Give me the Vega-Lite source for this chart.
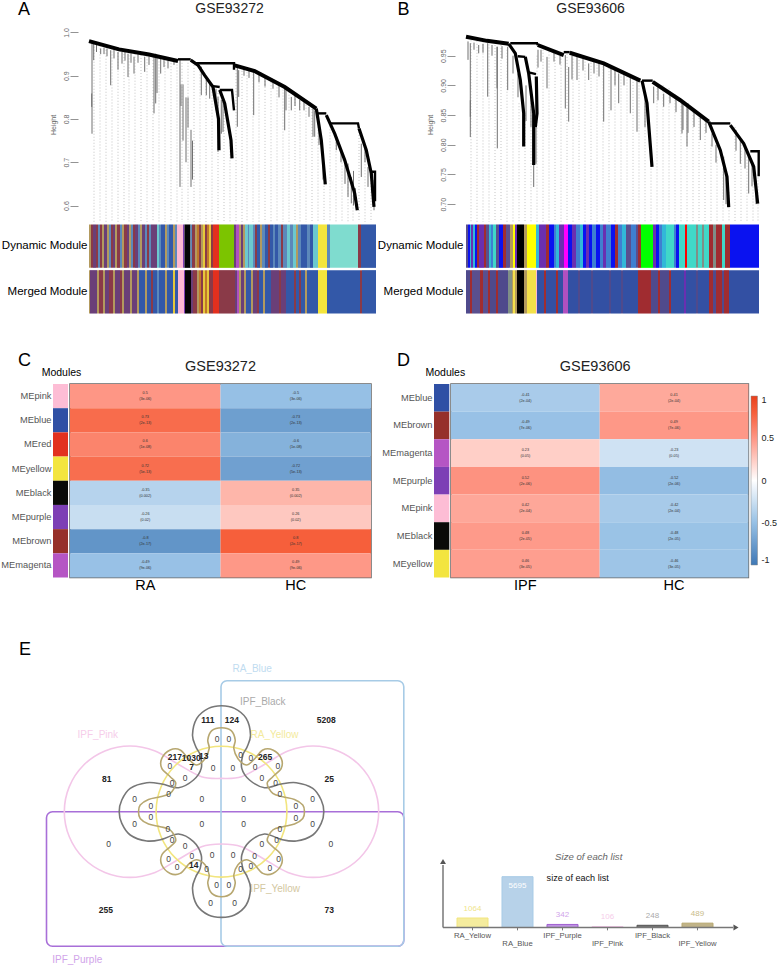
{
"$schema":"https://vega.github.io/schema/vega-lite/v6.json",
"padding":{"top":1,"left":0,"right":0,"bottom":0},
"background":"white",
"config":{"font":"Liberation Sans","view":{"stroke":null},"axis":{"grid":false}},
"datasets":{
"a_guides":[{"pos":5,"h":0.974},{"pos":11,"h":0.97},{"pos":17,"h":0.967},{"pos":23,"h":0.963},{"pos":29,"h":0.96},{"pos":35,"h":0.957},{"pos":40,"h":0.954},{"pos":46,"h":0.951},{"pos":52,"h":0.948},{"pos":58,"h":0.945},{"pos":64,"h":0.943},{"pos":70,"h":0.94},{"pos":76,"h":0.938},{"pos":82,"h":0.936},{"pos":88,"h":0.933},{"pos":93,"h":0.93},{"pos":99,"h":0.93},{"pos":105,"h":0.925},{"pos":111,"h":0.91},{"pos":117,"h":0.89},{"pos":123,"h":0.87},{"pos":129,"h":0.86},{"pos":135,"h":0.83},{"pos":141,"h":0.76},{"pos":147,"h":0.92},{"pos":153,"h":0.918},{"pos":158,"h":0.915},{"pos":164,"h":0.91},{"pos":170,"h":0.905},{"pos":176,"h":0.895},{"pos":182,"h":0.885},{"pos":188,"h":0.88},{"pos":194,"h":0.875},{"pos":200,"h":0.87},{"pos":206,"h":0.86},{"pos":211,"h":0.85},{"pos":217,"h":0.84},{"pos":223,"h":0.83},{"pos":229,"h":0.81},{"pos":235,"h":0.68},{"pos":241,"h":0.79},{"pos":247,"h":0.76},{"pos":253,"h":0.72},{"pos":259,"h":0.67},{"pos":264,"h":0.63},{"pos":270,"h":0.77},{"pos":276,"h":0.73},{"pos":282,"h":0.68}],
"a_twigs":[{"pos":3,"h":0.978,"h2":0.766},{"pos":2.7,"h":0.859,"h2":0.828},{"pos":4.7,"h":0.975,"h2":0.936},{"pos":7.5,"h":0.972,"h2":0.955},{"pos":11.7,"h":0.963,"h2":0.95},{"pos":15,"h":0.965,"h2":0.95},{"pos":18,"h":0.963,"h2":0.945},{"pos":21.7,"h":0.959,"h2":0.878},{"pos":25,"h":0.96,"h2":0.94},{"pos":29,"h":0.955,"h2":0.914},{"pos":33,"h":0.955,"h2":0.928},{"pos":36,"h":0.955,"h2":0.935},{"pos":39,"h":0.951,"h2":0.897},{"pos":42,"h":0.952,"h2":0.93},{"pos":45,"h":0.944,"h2":0.905},{"pos":49,"h":0.95,"h2":0.93},{"pos":55.7,"h":0.944,"h2":0.909},{"pos":60,"h":0.945,"h2":0.925},{"pos":65,"h":0.948,"h2":0.813},{"pos":66.7,"h":0.951,"h2":0.836},{"pos":68,"h":0.945,"h2":0.86},{"pos":71.7,"h":0.94,"h2":0.905},{"pos":75,"h":0.938,"h2":0.92},{"pos":79,"h":0.936,"h2":0.917},{"pos":85,"h":0.935,"h2":0.925},{"pos":91,"h":0.936,"h2":0.643},{"pos":92,"h":0.88,"h2":0.83},{"pos":94,"h":0.88,"h2":0.75},{"pos":97,"h":0.85,"h2":0.7},{"pos":99,"h":0.85,"h2":0.78},{"pos":102,"h":0.775,"h2":0.643},{"pos":103.5,"h":0.75,"h2":0.66},{"pos":112.3,"h":0.921,"h2":0.855},{"pos":117.3,"h":0.897,"h2":0.855},{"pos":120.7,"h":0.882,"h2":0.847},{"pos":127,"h":0.87,"h2":0.82},{"pos":132.3,"h":0.844,"h2":0.766},{"pos":134,"h":0.84,"h2":0.77},{"pos":129,"h":0.851,"h2":0.724},{"pos":148.3,"h":0.921,"h2":0.782},{"pos":149.7,"h":0.913,"h2":0.851},{"pos":155,"h":0.918,"h2":0.9},{"pos":160,"h":0.915,"h2":0.895},{"pos":164.7,"h":0.909,"h2":0.809},{"pos":170,"h":0.905,"h2":0.885},{"pos":176,"h":0.895,"h2":0.875},{"pos":184,"h":0.885,"h2":0.87},{"pos":190,"h":0.88,"h2":0.85},{"pos":195.7,"h":0.874,"h2":0.774},{"pos":197,"h":0.87,"h2":0.82},{"pos":202.3,"h":0.851,"h2":0.82},{"pos":206,"h":0.855,"h2":0.83},{"pos":210.7,"h":0.844,"h2":0.82},{"pos":215,"h":0.84,"h2":0.82},{"pos":220,"h":0.828,"h2":0.805},{"pos":224,"h":0.824,"h2":0.759},{"pos":225.7,"h":0.82,"h2":0.759},{"pos":230,"h":0.79,"h2":0.74},{"pos":234,"h":0.72,"h2":0.66},{"pos":247.3,"h":0.751,"h2":0.728},{"pos":252,"h":0.725,"h2":0.7},{"pos":256,"h":0.7,"h2":0.65},{"pos":259,"h":0.697,"h2":0.62},{"pos":262.3,"h":0.666,"h2":0.605},{"pos":264.5,"h":0.68,"h2":0.6},{"pos":266.5,"h":0.64,"h2":0.6},{"pos":272.3,"h":0.743,"h2":0.666},{"pos":276,"h":0.74,"h2":0.7},{"pos":279,"h":0.689,"h2":0.643},{"pos":283,"h":0.675,"h2":0.63},{"pos":285,"h":0.659,"h2":0.589}],
"a_lines":[
{"branch":"t1","kind":"trunk","pos":0,"h":0.98},{"branch":"t1","kind":"trunk","pos":30,"h":0.961},{"branch":"t1","kind":"trunk","pos":60,"h":0.949},{"branch":"t1","kind":"trunk","pos":89,"h":0.934},
{"branch":"c2","kind":"cluster","pos":101.7,"h":0.936},{"branch":"c2","kind":"cluster","pos":109,"h":0.9245},{"branch":"c2","kind":"cluster","pos":115.7,"h":0.901},{"branch":"c2","kind":"cluster","pos":124,"h":0.874},{"branch":"c2","kind":"cluster","pos":129.5,"h":0.8},{"branch":"c2","kind":"cluster","pos":130,"h":0.728},
{"branch":"c3","kind":"cluster","pos":130.7,"h":0.867},{"branch":"c3","kind":"cluster","pos":135.7,"h":0.836},{"branch":"c3","kind":"cluster","pos":142,"h":0.751},{"branch":"c3","kind":"cluster","pos":143,"h":0.709},
{"branch":"t4","kind":"trunk","pos":145.7,"h":0.924},{"branch":"t4","kind":"trunk","pos":165.7,"h":0.911},{"branch":"t4","kind":"trunk","pos":195.7,"h":0.874},{"branch":"t4","kind":"trunk","pos":227.3,"h":0.824},
{"branch":"c5","kind":"cluster","pos":227.3,"h":0.824},{"branch":"c5","kind":"cluster","pos":232.3,"h":0.751},{"branch":"c5","kind":"cluster","pos":236.3,"h":0.649},
{"branch":"c6","kind":"cluster","pos":237.3,"h":0.809},{"branch":"c6","kind":"cluster","pos":245.7,"h":0.766},{"branch":"c6","kind":"cluster","pos":255.7,"h":0.705},{"branch":"c6","kind":"cluster","pos":265.7,"h":0.628},{"branch":"c6","kind":"cluster","pos":268.3,"h":0.589},
{"branch":"c7","kind":"cluster","pos":270,"h":0.778},{"branch":"c7","kind":"cluster","pos":277.3,"h":0.728},{"branch":"c7","kind":"cluster","pos":282.3,"h":0.674},{"branch":"c7","kind":"cluster","pos":285,"h":0.597},
{"branch":"l1","kind":"link","pos":89,"h":0.938},{"branch":"l1","kind":"link","pos":101.7,"h":0.938},
{"branch":"l2","kind":"link","pos":106,"h":0.929},{"branch":"l2","kind":"link","pos":145,"h":0.929},{"branch":"l2","kind":"link","pos":145,"h":0.914},
{"branch":"l3","kind":"link","pos":124,"h":0.876},{"branch":"l3","kind":"link","pos":130.7,"h":0.874},
{"branch":"l4","kind":"link","pos":130.7,"h":0.867},{"branch":"l4","kind":"link","pos":143,"h":0.867},{"branch":"l4","kind":"link","pos":145,"h":0.82},
{"branch":"l5","kind":"link","pos":229,"h":0.813},{"branch":"l5","kind":"link","pos":237.3,"h":0.813},
{"branch":"l6","kind":"link","pos":240.7,"h":0.79},{"branch":"l6","kind":"link","pos":269,"h":0.79},{"branch":"l6","kind":"link","pos":270,"h":0.778},
{"branch":"l7","kind":"link","pos":282,"h":0.678},{"branch":"l7","kind":"link","pos":286,"h":0.678},{"branch":"l7","kind":"link","pos":286,"h":0.61}
],
"b_guides":[{"pos":5,"h":0.976},{"pos":11,"h":0.975},{"pos":17,"h":0.974},{"pos":23,"h":0.974},{"pos":29,"h":0.973},{"pos":35,"h":0.973},{"pos":41,"h":0.96},{"pos":47,"h":0.91},{"pos":53,"h":0.87},{"pos":59,"h":0.85},{"pos":65,"h":0.88},{"pos":71,"h":0.95},{"pos":77,"h":0.965},{"pos":83,"h":0.962},{"pos":89,"h":0.958},{"pos":95,"h":0.955},{"pos":101,"h":0.953},{"pos":107,"h":0.95},{"pos":113,"h":0.948},{"pos":119,"h":0.945},{"pos":125,"h":0.943},{"pos":131,"h":0.94},{"pos":137,"h":0.937},{"pos":143,"h":0.934},{"pos":149,"h":0.93},{"pos":155,"h":0.925},{"pos":161,"h":0.92},{"pos":167,"h":0.916},{"pos":173,"h":0.91},{"pos":179,"h":0.87},{"pos":185,"h":0.78},{"pos":191,"h":0.9},{"pos":197,"h":0.9},{"pos":203,"h":0.895},{"pos":209,"h":0.885},{"pos":215,"h":0.875},{"pos":221,"h":0.87},{"pos":227,"h":0.86},{"pos":233,"h":0.85},{"pos":239,"h":0.84},{"pos":245,"h":0.8},{"pos":251,"h":0.78},{"pos":257,"h":0.76},{"pos":263,"h":0.72},{"pos":269,"h":0.83},{"pos":275,"h":0.81},{"pos":281,"h":0.79},{"pos":287,"h":0.77},{"pos":292,"h":0.75}],
"b_twigs":[{"pos":2,"h":0.974,"h2":0.943},{"pos":4.3,"h":0.971,"h2":0.813},{"pos":4.3,"h":0.875,"h2":0.847},{"pos":8,"h":0.972,"h2":0.96},{"pos":12.7,"h":0.968,"h2":0.954},{"pos":17,"h":0.97,"h2":0.955},{"pos":21.7,"h":0.971,"h2":0.881},{"pos":26,"h":0.968,"h2":0.95},{"pos":31,"h":0.965,"h2":0.895},{"pos":31.3,"h":0.965,"h2":0.794},{"pos":36,"h":0.966,"h2":0.945},{"pos":41.7,"h":0.965,"h2":0.892},{"pos":47,"h":0.95,"h2":0.92},{"pos":52,"h":0.92,"h2":0.88},{"pos":60,"h":0.9,"h2":0.84},{"pos":65,"h":0.88,"h2":0.83},{"pos":67.7,"h":0.858,"h2":0.729},{"pos":72,"h":0.96,"h2":0.93},{"pos":75,"h":0.96,"h2":0.94},{"pos":81,"h":0.948,"h2":0.895},{"pos":88,"h":0.955,"h2":0.94},{"pos":94,"h":0.95,"h2":0.935},{"pos":99.3,"h":0.951,"h2":0.861},{"pos":102.7,"h":0.931,"h2":0.839},{"pos":106,"h":0.95,"h2":0.91},{"pos":111,"h":0.948,"h2":0.909},{"pos":117,"h":0.945,"h2":0.925},{"pos":122.7,"h":0.937,"h2":0.909},{"pos":128,"h":0.94,"h2":0.92},{"pos":133,"h":0.938,"h2":0.915},{"pos":137.7,"h":0.934,"h2":0.839},{"pos":145,"h":0.931,"h2":0.858},{"pos":149,"h":0.93,"h2":0.9},{"pos":152.7,"h":0.92,"h2":0.87},{"pos":158,"h":0.92,"h2":0.9},{"pos":164.3,"h":0.917,"h2":0.853},{"pos":171,"h":0.909,"h2":0.822},{"pos":179,"h":0.88,"h2":0.83},{"pos":187.7,"h":0.898,"h2":0.87},{"pos":192,"h":0.9,"h2":0.875},{"pos":197.7,"h":0.886,"h2":0.864},{"pos":204,"h":0.89,"h2":0.87},{"pos":210,"h":0.88,"h2":0.855},{"pos":216,"h":0.875,"h2":0.819},{"pos":217,"h":0.87,"h2":0.825},{"pos":221,"h":0.864,"h2":0.797},{"pos":222,"h":0.87,"h2":0.82},{"pos":228,"h":0.86,"h2":0.83},{"pos":234.3,"h":0.847,"h2":0.808},{"pos":240,"h":0.84,"h2":0.82},{"pos":246,"h":0.819,"h2":0.797},{"pos":250,"h":0.8,"h2":0.77},{"pos":257.7,"h":0.78,"h2":0.707},{"pos":260,"h":0.75,"h2":0.7},{"pos":270,"h":0.825,"h2":0.79},{"pos":274.3,"h":0.808,"h2":0.768},{"pos":279,"h":0.795,"h2":0.76},{"pos":282.7,"h":0.78,"h2":0.718},{"pos":286,"h":0.77,"h2":0.73},{"pos":290,"h":0.74,"h2":0.7},{"pos":70,"h":0.85,"h2":0.768}],
"b_lines":[
{"branch":"t1","kind":"trunk","pos":0,"h":0.982},{"branch":"t1","kind":"trunk","pos":21,"h":0.975},{"branch":"t1","kind":"trunk","pos":42.7,"h":0.97},
{"branch":"c2","kind":"cluster","pos":42.7,"h":0.97},{"branch":"c2","kind":"cluster","pos":49.3,"h":0.954},{"branch":"c2","kind":"cluster","pos":54.3,"h":0.909},{"branch":"c2","kind":"cluster","pos":57.7,"h":0.853},{"branch":"c2","kind":"cluster","pos":57.7,"h":0.797},
{"branch":"c3","kind":"cluster","pos":59.3,"h":0.948},{"branch":"c3","kind":"cluster","pos":62.7,"h":0.92},{"branch":"c3","kind":"cluster","pos":67.7,"h":0.853},{"branch":"c3","kind":"cluster","pos":67.7,"h":0.766},
{"branch":"c4","kind":"cluster","pos":70.3,"h":0.915},{"branch":"c4","kind":"cluster","pos":71,"h":0.853},{"branch":"c4","kind":"cluster","pos":69.3,"h":0.83},
{"branch":"t3","kind":"trunk","pos":71.7,"h":0.968},{"branch":"t3","kind":"trunk","pos":97.7,"h":0.951},
{"branch":"t4","kind":"trunk","pos":103.7,"h":0.955},{"branch":"t4","kind":"trunk","pos":137.7,"h":0.937},{"branch":"t4","kind":"trunk","pos":174.3,"h":0.908},
{"branch":"c5","kind":"cluster","pos":176,"h":0.908},{"branch":"c5","kind":"cluster","pos":181,"h":0.87},{"branch":"c5","kind":"cluster","pos":186,"h":0.763},
{"branch":"t6","kind":"trunk","pos":186.7,"h":0.906},{"branch":"t6","kind":"trunk","pos":214.3,"h":0.875},{"branch":"t6","kind":"trunk","pos":242.7,"h":0.839},
{"branch":"c7","kind":"cluster","pos":242.7,"h":0.839},{"branch":"c7","kind":"cluster","pos":254.3,"h":0.791},{"branch":"c7","kind":"cluster","pos":261,"h":0.746},{"branch":"c7","kind":"cluster","pos":262.7,"h":0.695},
{"branch":"c8","kind":"cluster","pos":264.3,"h":0.833},{"branch":"c8","kind":"cluster","pos":277.7,"h":0.802},{"branch":"c8","kind":"cluster","pos":287.7,"h":0.763},{"branch":"c8","kind":"cluster","pos":291.7,"h":0.701},
{"branch":"l1","kind":"link","pos":44.3,"h":0.971},{"branch":"l1","kind":"link","pos":71,"h":0.971},{"branch":"l1","kind":"link","pos":71.7,"h":0.968},
{"branch":"l2","kind":"link","pos":51.7,"h":0.949},{"branch":"l2","kind":"link","pos":59.3,"h":0.948},
{"branch":"l3","kind":"link","pos":62.7,"h":0.922},{"branch":"l3","kind":"link","pos":70,"h":0.919},
{"branch":"l4","kind":"link","pos":97.7,"h":0.956},{"branch":"l4","kind":"link","pos":103.7,"h":0.956},
{"branch":"l5","kind":"link","pos":176,"h":0.908},{"branch":"l5","kind":"link","pos":186.7,"h":0.908},
{"branch":"l6","kind":"link","pos":244.3,"h":0.836},{"branch":"l6","kind":"link","pos":264.3,"h":0.836},
{"branch":"l7","kind":"link","pos":284.3,"h":0.789},{"branch":"l7","kind":"link","pos":292.7,"h":0.789},{"branch":"l7","kind":"link","pos":292.7,"h":0.747}
],
"a_strip":[
{"strip":"Dynamic Module","pos":0,"end":2,"module":"tan"},{"strip":"Dynamic Module","pos":2,"end":4,"module":"brown"},{"strip":"Dynamic Module","pos":4,"end":7,"module":"plum"},{"strip":"Dynamic Module","pos":7,"end":9,"module":"brown"},{"strip":"Dynamic Module","pos":9,"end":11,"module":"steel"},{"strip":"Dynamic Module","pos":11,"end":13,"module":"brown"},{"strip":"Dynamic Module","pos":13,"end":15,"module":"tan"},{"strip":"Dynamic Module","pos":15,"end":18,"module":"plum"},{"strip":"Dynamic Module","pos":18,"end":20,"module":"tan"},{"strip":"Dynamic Module","pos":20,"end":22,"module":"steel"},{"strip":"Dynamic Module","pos":22,"end":24,"module":"brown"},{"strip":"Dynamic Module","pos":24,"end":26,"module":"plum"},{"strip":"Dynamic Module","pos":26,"end":28,"module":"tan"},{"strip":"Dynamic Module","pos":28,"end":31,"module":"brown"},{"strip":"Dynamic Module","pos":31,"end":33,"module":"steel"},{"strip":"Dynamic Module","pos":33,"end":35,"module":"tan"},{"strip":"Dynamic Module","pos":35,"end":38,"module":"brown"},{"strip":"Dynamic Module","pos":38,"end":40,"module":"plum"},{"strip":"Dynamic Module","pos":40,"end":42,"module":"tan"},{"strip":"Dynamic Module","pos":42,"end":44,"module":"steel"},{"strip":"Dynamic Module","pos":44,"end":46,"module":"brown"},{"strip":"Dynamic Module","pos":46,"end":49,"module":"plum"},{"strip":"Dynamic Module","pos":49,"end":51,"module":"steel"},{"strip":"Dynamic Module","pos":51,"end":53,"module":"tan"},{"strip":"Dynamic Module","pos":53,"end":56,"module":"plum"},{"strip":"Dynamic Module","pos":56,"end":58,"module":"steel"},{"strip":"Dynamic Module","pos":58,"end":60,"module":"brown"},{"strip":"Dynamic Module","pos":60,"end":62,"module":"steel"},{"strip":"Dynamic Module","pos":62,"end":68,"module":"plum"},{"strip":"Dynamic Module","pos":68,"end":70,"module":"cyan"},{"strip":"Dynamic Module","pos":70,"end":72,"module":"steel"},{"strip":"Dynamic Module","pos":72,"end":76,"module":"blue"},{"strip":"Dynamic Module","pos":76,"end":78,"module":"tan"},{"strip":"Dynamic Module","pos":78,"end":80,"module":"steel"},{"strip":"Dynamic Module","pos":80,"end":84,"module":"blue"},{"strip":"Dynamic Module","pos":84,"end":86,"module":"tan"},{"strip":"Dynamic Module","pos":86,"end":88,"module":"steel"},{"strip":"Dynamic Module","pos":88,"end":94,"module":"pink"},{"strip":"Dynamic Module","pos":94,"end":95.5,"module":"purple"},{"strip":"Dynamic Module","pos":95.5,"end":101.5,"module":"black"},{"strip":"Dynamic Module","pos":101.5,"end":103,"module":"steel"},{"strip":"Dynamic Module","pos":103,"end":106,"module":"brown"},{"strip":"Dynamic Module","pos":106,"end":108,"module":"tan"},{"strip":"Dynamic Module","pos":108,"end":110,"module":"orange"},{"strip":"Dynamic Module","pos":110,"end":112,"module":"brown"},{"strip":"Dynamic Module","pos":112,"end":114,"module":"tan"},{"strip":"Dynamic Module","pos":114,"end":116,"module":"gold"},{"strip":"Dynamic Module","pos":116,"end":118,"module":"brown"},{"strip":"Dynamic Module","pos":118,"end":120,"module":"orange"},{"strip":"Dynamic Module","pos":120,"end":122,"module":"gold"},{"strip":"Dynamic Module","pos":122,"end":124,"module":"brown"},{"strip":"Dynamic Module","pos":124,"end":130,"module":"red"},{"strip":"Dynamic Module","pos":130,"end":145,"module":"green"},{"strip":"Dynamic Module","pos":145,"end":147,"module":"plum"},{"strip":"Dynamic Module","pos":147,"end":150,"module":"magenta"},{"strip":"Dynamic Module","pos":150,"end":152,"module":"tan"},{"strip":"Dynamic Module","pos":152,"end":154,"module":"plum"},{"strip":"Dynamic Module","pos":154,"end":156,"module":"tan"},{"strip":"Dynamic Module","pos":156,"end":159,"module":"cyan"},{"strip":"Dynamic Module","pos":159,"end":160,"module":"steel"},{"strip":"Dynamic Module","pos":160,"end":164,"module":"cyan"},{"strip":"Dynamic Module","pos":164,"end":166,"module":"steel"},{"strip":"Dynamic Module","pos":166,"end":168,"module":"brown"},{"strip":"Dynamic Module","pos":168,"end":171,"module":"blue"},{"strip":"Dynamic Module","pos":171,"end":173,"module":"tan"},{"strip":"Dynamic Module","pos":173,"end":176,"module":"steel"},{"strip":"Dynamic Module","pos":176,"end":179,"module":"blue"},{"strip":"Dynamic Module","pos":179,"end":181,"module":"brown"},{"strip":"Dynamic Module","pos":181,"end":184,"module":"blue"},{"strip":"Dynamic Module","pos":184,"end":186,"module":"steel"},{"strip":"Dynamic Module","pos":186,"end":189,"module":"blue"},{"strip":"Dynamic Module","pos":189,"end":192,"module":"steel"},{"strip":"Dynamic Module","pos":192,"end":194,"module":"brown"},{"strip":"Dynamic Module","pos":194,"end":198,"module":"steel"},{"strip":"Dynamic Module","pos":198,"end":201,"module":"cyan"},{"strip":"Dynamic Module","pos":201,"end":204,"module":"steel"},{"strip":"Dynamic Module","pos":204,"end":207,"module":"cyan"},{"strip":"Dynamic Module","pos":207,"end":209,"module":"tan"},{"strip":"Dynamic Module","pos":209,"end":212,"module":"steel"},{"strip":"Dynamic Module","pos":212,"end":218,"module":"blue"},{"strip":"Dynamic Module","pos":218,"end":221,"module":"steel"},{"strip":"Dynamic Module","pos":221,"end":224,"module":"blue"},{"strip":"Dynamic Module","pos":224,"end":229,"module":"cyan"},{"strip":"Dynamic Module","pos":229,"end":238,"module":"yellow"},{"strip":"Dynamic Module","pos":238,"end":241,"module":"steel"},{"strip":"Dynamic Module","pos":241,"end":269,"module":"turquoise"},{"strip":"Dynamic Module","pos":269,"end":272,"module":"brown"},{"strip":"Dynamic Module","pos":272,"end":287,"module":"blue"},
{"strip":"Merged Module","pos":0,"end":1,"module":"tan"},{"strip":"Merged Module","pos":1,"end":8,"module":"plum"},{"strip":"Merged Module","pos":8,"end":10,"module":"tan"},{"strip":"Merged Module","pos":10,"end":14,"module":"brown"},{"strip":"Merged Module","pos":14,"end":16,"module":"tan"},{"strip":"Merged Module","pos":16,"end":20,"module":"plum"},{"strip":"Merged Module","pos":20,"end":24,"module":"brown"},{"strip":"Merged Module","pos":24,"end":26,"module":"tan"},{"strip":"Merged Module","pos":26,"end":31,"module":"plum"},{"strip":"Merged Module","pos":31,"end":33,"module":"brown"},{"strip":"Merged Module","pos":33,"end":35,"module":"tan"},{"strip":"Merged Module","pos":35,"end":41,"module":"plum"},{"strip":"Merged Module","pos":41,"end":43,"module":"tan"},{"strip":"Merged Module","pos":43,"end":48,"module":"plum"},{"strip":"Merged Module","pos":48,"end":50,"module":"tan"},{"strip":"Merged Module","pos":50,"end":56,"module":"blue"},{"strip":"Merged Module","pos":56,"end":58,"module":"tan"},{"strip":"Merged Module","pos":58,"end":62,"module":"blue"},{"strip":"Merged Module","pos":62,"end":64,"module":"brown"},{"strip":"Merged Module","pos":64,"end":68,"module":"blue"},{"strip":"Merged Module","pos":68,"end":70,"module":"steel"},{"strip":"Merged Module","pos":70,"end":76,"module":"blue"},{"strip":"Merged Module","pos":76,"end":78,"module":"tan"},{"strip":"Merged Module","pos":78,"end":84,"module":"blue"},{"strip":"Merged Module","pos":84,"end":86,"module":"gold"},{"strip":"Merged Module","pos":86,"end":89,"module":"blue"},{"strip":"Merged Module","pos":89,"end":95,"module":"pink"},{"strip":"Merged Module","pos":95,"end":96,"module":"purple"},{"strip":"Merged Module","pos":96,"end":102,"module":"black"},{"strip":"Merged Module","pos":102,"end":104,"module":"plum"},{"strip":"Merged Module","pos":104,"end":108,"module":"brown"},{"strip":"Merged Module","pos":108,"end":110,"module":"tan"},{"strip":"Merged Module","pos":110,"end":112,"module":"orange"},{"strip":"Merged Module","pos":112,"end":114,"module":"brown"},{"strip":"Merged Module","pos":114,"end":116,"module":"gold"},{"strip":"Merged Module","pos":116,"end":118,"module":"orange"},{"strip":"Merged Module","pos":118,"end":120,"module":"gold"},{"strip":"Merged Module","pos":120,"end":124,"module":"brown"},{"strip":"Merged Module","pos":124,"end":130,"module":"red"},{"strip":"Merged Module","pos":130,"end":146,"module":"brown"},{"strip":"Merged Module","pos":146,"end":148,"module":"plum"},{"strip":"Merged Module","pos":148,"end":150,"module":"magenta"},{"strip":"Merged Module","pos":150,"end":152,"module":"tan"},{"strip":"Merged Module","pos":152,"end":155,"module":"plum"},{"strip":"Merged Module","pos":155,"end":157,"module":"tan"},{"strip":"Merged Module","pos":157,"end":162,"module":"blue"},{"strip":"Merged Module","pos":162,"end":164,"module":"tan"},{"strip":"Merged Module","pos":164,"end":168,"module":"plum"},{"strip":"Merged Module","pos":168,"end":170,"module":"brown"},{"strip":"Merged Module","pos":170,"end":174,"module":"blue"},{"strip":"Merged Module","pos":174,"end":176,"module":"tan"},{"strip":"Merged Module","pos":176,"end":182,"module":"blue"},{"strip":"Merged Module","pos":182,"end":190,"module":"plum"},{"strip":"Merged Module","pos":190,"end":192,"module":"brown"},{"strip":"Merged Module","pos":192,"end":197,"module":"plum"},{"strip":"Merged Module","pos":197,"end":205,"module":"blue"},{"strip":"Merged Module","pos":205,"end":207,"module":"brown"},{"strip":"Merged Module","pos":207,"end":210,"module":"blue"},{"strip":"Merged Module","pos":210,"end":212,"module":"brown"},{"strip":"Merged Module","pos":212,"end":216,"module":"blue"},{"strip":"Merged Module","pos":216,"end":218,"module":"tan"},{"strip":"Merged Module","pos":218,"end":229,"module":"blue"},{"strip":"Merged Module","pos":229,"end":238,"module":"yellow"},{"strip":"Merged Module","pos":238,"end":271,"module":"blue"},{"strip":"Merged Module","pos":271,"end":273,"module":"brown"},{"strip":"Merged Module","pos":273,"end":287,"module":"blue"}
],
"b_strip":[
{"strip":"Dynamic Module","pos":0,"end":2,"module":"slate"},{"strip":"Dynamic Module","pos":2,"end":4,"module":"blue"},{"strip":"Dynamic Module","pos":4,"end":5,"module":"cyan"},{"strip":"Dynamic Module","pos":5,"end":7,"module":"purple"},{"strip":"Dynamic Module","pos":7,"end":9,"module":"cyan"},{"strip":"Dynamic Module","pos":9,"end":11,"module":"blue"},{"strip":"Dynamic Module","pos":11,"end":13,"module":"brown"},{"strip":"Dynamic Module","pos":13,"end":18,"module":"purple"},{"strip":"Dynamic Module","pos":18,"end":20,"module":"brown"},{"strip":"Dynamic Module","pos":20,"end":23,"module":"slate"},{"strip":"Dynamic Module","pos":23,"end":25,"module":"cyan"},{"strip":"Dynamic Module","pos":25,"end":27,"module":"steel"},{"strip":"Dynamic Module","pos":27,"end":30,"module":"turquoise"},{"strip":"Dynamic Module","pos":30,"end":33,"module":"slate"},{"strip":"Dynamic Module","pos":33,"end":37,"module":"blue"},{"strip":"Dynamic Module","pos":37,"end":40,"module":"brown"},{"strip":"Dynamic Module","pos":40,"end":44,"module":"slate"},{"strip":"Dynamic Module","pos":44,"end":47,"module":"tan"},{"strip":"Dynamic Module","pos":47,"end":49,"module":"yellow"},{"strip":"Dynamic Module","pos":49,"end":51,"module":"purple"},{"strip":"Dynamic Module","pos":51,"end":58,"module":"black"},{"strip":"Dynamic Module","pos":58,"end":61,"module":"tan"},{"strip":"Dynamic Module","pos":61,"end":70,"module":"yellow"},{"strip":"Dynamic Module","pos":70,"end":73,"module":"cyan"},{"strip":"Dynamic Module","pos":73,"end":80,"module":"purple"},{"strip":"Dynamic Module","pos":80,"end":83,"module":"brown"},{"strip":"Dynamic Module","pos":83,"end":88,"module":"blue"},{"strip":"Dynamic Module","pos":88,"end":90,"module":"steel"},{"strip":"Dynamic Module","pos":90,"end":93,"module":"cyan"},{"strip":"Dynamic Module","pos":93,"end":98,"module":"purple"},{"strip":"Dynamic Module","pos":98,"end":102,"module":"magenta"},{"strip":"Dynamic Module","pos":102,"end":106,"module":"blue"},{"strip":"Dynamic Module","pos":106,"end":110,"module":"purple"},{"strip":"Dynamic Module","pos":110,"end":114,"module":"steel"},{"strip":"Dynamic Module","pos":114,"end":117,"module":"cyan"},{"strip":"Dynamic Module","pos":117,"end":120,"module":"blue"},{"strip":"Dynamic Module","pos":120,"end":123,"module":"purple"},{"strip":"Dynamic Module","pos":123,"end":126,"module":"blue"},{"strip":"Dynamic Module","pos":126,"end":130,"module":"steel"},{"strip":"Dynamic Module","pos":130,"end":134,"module":"blue"},{"strip":"Dynamic Module","pos":134,"end":137,"module":"steel"},{"strip":"Dynamic Module","pos":137,"end":140,"module":"purple"},{"strip":"Dynamic Module","pos":140,"end":145,"module":"steel"},{"strip":"Dynamic Module","pos":145,"end":149,"module":"blue"},{"strip":"Dynamic Module","pos":149,"end":152,"module":"brown"},{"strip":"Dynamic Module","pos":152,"end":156,"module":"steel"},{"strip":"Dynamic Module","pos":156,"end":160,"module":"cyan"},{"strip":"Dynamic Module","pos":160,"end":165,"module":"slate"},{"strip":"Dynamic Module","pos":165,"end":170,"module":"steel"},{"strip":"Dynamic Module","pos":170,"end":172,"module":"slate"},{"strip":"Dynamic Module","pos":172,"end":175,"module":"brown"},{"strip":"Dynamic Module","pos":175,"end":187,"module":"green"},{"strip":"Dynamic Module","pos":187,"end":190,"module":"purple"},{"strip":"Dynamic Module","pos":190,"end":193,"module":"blue"},{"strip":"Dynamic Module","pos":193,"end":196,"module":"steel"},{"strip":"Dynamic Module","pos":196,"end":200,"module":"cyan"},{"strip":"Dynamic Module","pos":200,"end":208,"module":"turquoise"},{"strip":"Dynamic Module","pos":208,"end":210,"module":"steel"},{"strip":"Dynamic Module","pos":210,"end":213,"module":"blue"},{"strip":"Dynamic Module","pos":213,"end":219,"module":"turquoise"},{"strip":"Dynamic Module","pos":219,"end":221,"module":"red"},{"strip":"Dynamic Module","pos":221,"end":230,"module":"turquoise"},{"strip":"Dynamic Module","pos":230,"end":232,"module":"gray"},{"strip":"Dynamic Module","pos":232,"end":236,"module":"turquoise"},{"strip":"Dynamic Module","pos":236,"end":238,"module":"gray"},{"strip":"Dynamic Module","pos":238,"end":243,"module":"turquoise"},{"strip":"Dynamic Module","pos":243,"end":247,"module":"brown"},{"strip":"Dynamic Module","pos":247,"end":250,"module":"gray"},{"strip":"Dynamic Module","pos":250,"end":256,"module":"brown"},{"strip":"Dynamic Module","pos":256,"end":259,"module":"turquoise"},{"strip":"Dynamic Module","pos":259,"end":264,"module":"brown"},{"strip":"Dynamic Module","pos":264,"end":293,"module":"blue"},
{"strip":"Merged Module","pos":0,"end":4,"module":"plum"},{"strip":"Merged Module","pos":4,"end":6,"module":"brown"},{"strip":"Merged Module","pos":6,"end":14,"module":"slate"},{"strip":"Merged Module","pos":14,"end":17,"module":"brown"},{"strip":"Merged Module","pos":17,"end":22,"module":"slate"},{"strip":"Merged Module","pos":22,"end":24,"module":"brown"},{"strip":"Merged Module","pos":24,"end":30,"module":"plum"},{"strip":"Merged Module","pos":30,"end":32,"module":"brown"},{"strip":"Merged Module","pos":32,"end":42,"module":"plum"},{"strip":"Merged Module","pos":42,"end":46,"module":"gray"},{"strip":"Merged Module","pos":46,"end":47,"module":"tan"},{"strip":"Merged Module","pos":47,"end":49,"module":"paleyellow"},{"strip":"Merged Module","pos":49,"end":51,"module":"tan"},{"strip":"Merged Module","pos":51,"end":58,"module":"black"},{"strip":"Merged Module","pos":58,"end":61,"module":"tan"},{"strip":"Merged Module","pos":61,"end":70,"module":"paleyellow"},{"strip":"Merged Module","pos":70,"end":71,"module":"pink"},{"strip":"Merged Module","pos":71,"end":78,"module":"navy"},{"strip":"Merged Module","pos":78,"end":80,"module":"brown"},{"strip":"Merged Module","pos":80,"end":90,"module":"navy"},{"strip":"Merged Module","pos":90,"end":92,"module":"brown"},{"strip":"Merged Module","pos":92,"end":97,"module":"navy"},{"strip":"Merged Module","pos":97,"end":102,"module":"orchid"},{"strip":"Merged Module","pos":102,"end":112,"module":"navy"},{"strip":"Merged Module","pos":112,"end":114,"module":"plum"},{"strip":"Merged Module","pos":114,"end":125,"module":"navy"},{"strip":"Merged Module","pos":125,"end":127,"module":"plum"},{"strip":"Merged Module","pos":127,"end":143,"module":"navy"},{"strip":"Merged Module","pos":143,"end":145,"module":"plum"},{"strip":"Merged Module","pos":145,"end":155,"module":"navy"},{"strip":"Merged Module","pos":155,"end":157,"module":"plum"},{"strip":"Merged Module","pos":157,"end":172,"module":"navy"},{"strip":"Merged Module","pos":172,"end":185,"module":"brown"},{"strip":"Merged Module","pos":185,"end":192,"module":"plum"},{"strip":"Merged Module","pos":192,"end":194,"module":"brown"},{"strip":"Merged Module","pos":194,"end":203,"module":"plum"},{"strip":"Merged Module","pos":203,"end":205,"module":"brown"},{"strip":"Merged Module","pos":205,"end":218,"module":"navy"},{"strip":"Merged Module","pos":218,"end":220,"module":"purple"},{"strip":"Merged Module","pos":220,"end":230,"module":"navy"},{"strip":"Merged Module","pos":230,"end":232,"module":"plum"},{"strip":"Merged Module","pos":232,"end":243,"module":"navy"},{"strip":"Merged Module","pos":243,"end":247,"module":"brown"},{"strip":"Merged Module","pos":247,"end":250,"module":"plum"},{"strip":"Merged Module","pos":250,"end":256,"module":"brown"},{"strip":"Merged Module","pos":256,"end":258,"module":"plum"},{"strip":"Merged Module","pos":258,"end":263,"module":"brown"},{"strip":"Merged Module","pos":263,"end":293,"module":"navy"}
],
"heat_c":[
{"module":"MEpink","group":"RA","r":0.5,"p":"(3e-06)"},{"module":"MEpink","group":"HC","r":-0.5,"p":"(3e-06)"},
{"module":"MEblue","group":"RA","r":0.73,"p":"(2e-13)"},{"module":"MEblue","group":"HC","r":-0.73,"p":"(2e-13)"},
{"module":"MEred","group":"RA","r":0.6,"p":"(1e-08)"},{"module":"MEred","group":"HC","r":-0.6,"p":"(1e-08)"},
{"module":"MEyellow","group":"RA","r":0.72,"p":"(5e-13)"},{"module":"MEyellow","group":"HC","r":-0.72,"p":"(5e-13)"},
{"module":"MEblack","group":"RA","r":-0.35,"p":"(0.002)"},{"module":"MEblack","group":"HC","r":0.35,"p":"(0.002)"},
{"module":"MEpurple","group":"RA","r":-0.26,"p":"(0.02)"},{"module":"MEpurple","group":"HC","r":0.26,"p":"(0.02)"},
{"module":"MEbrown","group":"RA","r":-0.8,"p":"(2e-17)"},{"module":"MEbrown","group":"HC","r":0.8,"p":"(2e-17)"},
{"module":"MEmagenta","group":"RA","r":-0.49,"p":"(9e-06)"},{"module":"MEmagenta","group":"HC","r":0.49,"p":"(9e-06)"}],
"heat_d":[
{"module":"MEblue","group":"IPF","r":-0.41,"p":"(2e-04)"},{"module":"MEblue","group":"HC","r":0.41,"p":"(2e-04)"},
{"module":"MEbrown","group":"IPF","r":-0.49,"p":"(7e-06)"},{"module":"MEbrown","group":"HC","r":0.49,"p":"(7e-06)"},
{"module":"MEmagenta","group":"IPF","r":0.23,"p":"(0.05)"},{"module":"MEmagenta","group":"HC","r":-0.23,"p":"(0.05)"},
{"module":"MEpurple","group":"IPF","r":0.52,"p":"(2e-06)"},{"module":"MEpurple","group":"HC","r":-0.52,"p":"(2e-06)"},
{"module":"MEpink","group":"IPF","r":0.42,"p":"(2e-04)"},{"module":"MEpink","group":"HC","r":-0.42,"p":"(2e-04)"},
{"module":"MEblack","group":"IPF","r":0.48,"p":"(2e-05)"},{"module":"MEblack","group":"HC","r":-0.48,"p":"(2e-05)"},
{"module":"MEyellow","group":"IPF","r":0.46,"p":"(3e-05)"},{"module":"MEyellow","group":"HC","r":-0.46,"p":"(3e-05)"}],
"venn_rects":[{"set":"IPF_Purple","vx":-175,"vx2":182.3,"vy":0,"vy2":134.5},{"set":"RA_Blue","vx":-0.5,"vx2":182.3,"vy":-131,"vy2":134.5}],
"venn_shapes":[
{"set":"IPF_Pink","vx":0,"vy":-33.3},{"set":"IPF_Pink","vx":20,"vy":-35},{"set":"IPF_Pink","vx":43.7,"vy":-47.7},{"set":"IPF_Pink","vx":66.4,"vy":-60.7},{"set":"IPF_Pink","vx":91.5,"vy":-65.7},{"set":"IPF_Pink","vx":116.6,"vy":-60.7},{"set":"IPF_Pink","vx":138,"vy":-46.5},{"set":"IPF_Pink","vx":152.2,"vy":-25.1},{"set":"IPF_Pink","vx":157.2,"vy":0},{"set":"IPF_Pink","vx":152.2,"vy":25.1},{"set":"IPF_Pink","vx":138,"vy":46.5},{"set":"IPF_Pink","vx":116.6,"vy":60.7},{"set":"IPF_Pink","vx":91.5,"vy":65.7},{"set":"IPF_Pink","vx":66.4,"vy":60.7},{"set":"IPF_Pink","vx":43.7,"vy":48},{"set":"IPF_Pink","vx":20,"vy":35},{"set":"IPF_Pink","vx":0,"vy":32.3},{"set":"IPF_Pink","vx":-20,"vy":35},{"set":"IPF_Pink","vx":-43.7,"vy":48},{"set":"IPF_Pink","vx":-66.4,"vy":60.7},{"set":"IPF_Pink","vx":-91.5,"vy":65.7},{"set":"IPF_Pink","vx":-116.6,"vy":60.7},{"set":"IPF_Pink","vx":-138,"vy":46.5},{"set":"IPF_Pink","vx":-152.2,"vy":25.1},{"set":"IPF_Pink","vx":-157.2,"vy":0},{"set":"IPF_Pink","vx":-152.2,"vy":-25.1},{"set":"IPF_Pink","vx":-138,"vy":-46.5},{"set":"IPF_Pink","vx":-116.6,"vy":-60.7},{"set":"IPF_Pink","vx":-91.5,"vy":-65.7},{"set":"IPF_Pink","vx":-66.4,"vy":-60.7},{"set":"IPF_Pink","vx":-43.7,"vy":-47.7},{"set":"IPF_Pink","vx":-20,"vy":-35},
{"set":"RA_Yellow","vx":0,"vy":-65.4},{"set":"RA_Yellow","vx":25,"vy":-60.4},{"set":"RA_Yellow","vx":46.2,"vy":-46.2},{"set":"RA_Yellow","vx":60.4,"vy":-25},{"set":"RA_Yellow","vx":65.4,"vy":0},{"set":"RA_Yellow","vx":60.4,"vy":25},{"set":"RA_Yellow","vx":46.2,"vy":46.2},{"set":"RA_Yellow","vx":25,"vy":60.4},{"set":"RA_Yellow","vx":0,"vy":65.4},{"set":"RA_Yellow","vx":-25,"vy":60.4},{"set":"RA_Yellow","vx":-46.2,"vy":46.2},{"set":"RA_Yellow","vx":-60.4,"vy":25},{"set":"RA_Yellow","vx":-65.4,"vy":0},{"set":"RA_Yellow","vx":-60.4,"vy":-25},{"set":"RA_Yellow","vx":-46.2,"vy":-46.2},{"set":"RA_Yellow","vx":-25,"vy":-60.4},
{"set":"IPF_Black","vx":0,"vy":-106},{"set":"IPF_Black","vx":13,"vy":-103.3},{"set":"IPF_Black","vx":24.7,"vy":-93.3},{"set":"IPF_Black","vx":29,"vy":-76.7},{"set":"IPF_Black","vx":25.7,"vy":-65},{"set":"IPF_Black","vx":21.3,"vy":-56.7},{"set":"IPF_Black","vx":20.3,"vy":-43.3},{"set":"IPF_Black","vx":28,"vy":-31.7},{"set":"IPF_Black","vx":43,"vy":-24},{"set":"IPF_Black","vx":59.7,"vy":-27.7},{"set":"IPF_Black","vx":74.7,"vy":-29},{"set":"IPF_Black","vx":91.3,"vy":-23.3},{"set":"IPF_Black","vx":99.7,"vy":-11.7},{"set":"IPF_Black","vx":102.3,"vy":0},{"set":"IPF_Black","vx":99.7,"vy":11.7},{"set":"IPF_Black","vx":91.3,"vy":23.3},{"set":"IPF_Black","vx":74.7,"vy":29.3},{"set":"IPF_Black","vx":59.7,"vy":27.7},{"set":"IPF_Black","vx":43,"vy":22.3},{"set":"IPF_Black","vx":28,"vy":30},{"set":"IPF_Black","vx":20.3,"vy":43.3},{"set":"IPF_Black","vx":21.3,"vy":56.7},{"set":"IPF_Black","vx":25.7,"vy":65},{"set":"IPF_Black","vx":29,"vy":76.7},{"set":"IPF_Black","vx":24.7,"vy":93.3},{"set":"IPF_Black","vx":13,"vy":103.3},{"set":"IPF_Black","vx":0,"vy":105.7},{"set":"IPF_Black","vx":-13,"vy":103.3},{"set":"IPF_Black","vx":-24.7,"vy":93.3},{"set":"IPF_Black","vx":-29,"vy":76.7},{"set":"IPF_Black","vx":-25.7,"vy":65},{"set":"IPF_Black","vx":-21.3,"vy":56.7},{"set":"IPF_Black","vx":-20.3,"vy":43.3},{"set":"IPF_Black","vx":-28,"vy":30},{"set":"IPF_Black","vx":-43,"vy":22.3},{"set":"IPF_Black","vx":-59.7,"vy":27.7},{"set":"IPF_Black","vx":-74.7,"vy":29.3},{"set":"IPF_Black","vx":-91.3,"vy":23.3},{"set":"IPF_Black","vx":-99.7,"vy":11.7},{"set":"IPF_Black","vx":-102.3,"vy":0},{"set":"IPF_Black","vx":-99.7,"vy":-11.7},{"set":"IPF_Black","vx":-91.3,"vy":-23.3},{"set":"IPF_Black","vx":-74.7,"vy":-29},{"set":"IPF_Black","vx":-59.7,"vy":-27.7},{"set":"IPF_Black","vx":-43,"vy":-24},{"set":"IPF_Black","vx":-28,"vy":-31.7},{"set":"IPF_Black","vx":-20.3,"vy":-43.3},{"set":"IPF_Black","vx":-21.3,"vy":-56.7},{"set":"IPF_Black","vx":-25.7,"vy":-65},{"set":"IPF_Black","vx":-29,"vy":-76.7},{"set":"IPF_Black","vx":-24.7,"vy":-93.3},{"set":"IPF_Black","vx":-13,"vy":-103.3},
{"set":"IPF_Yellow","vx":0,"vy":-84},{"set":"IPF_Yellow","vx":9.7,"vy":-81},{"set":"IPF_Yellow","vx":13.7,"vy":-71.7},{"set":"IPF_Yellow","vx":12.3,"vy":-63.3},{"set":"IPF_Yellow","vx":16.3,"vy":-53.3},{"set":"IPF_Yellow","vx":24.7,"vy":-46.7},{"set":"IPF_Yellow","vx":32,"vy":-51.7},{"set":"IPF_Yellow","vx":41.3,"vy":-61.7},{"set":"IPF_Yellow","vx":51.3,"vy":-61.7},{"set":"IPF_Yellow","vx":59.7,"vy":-53.3},{"set":"IPF_Yellow","vx":59.7,"vy":-43.3},{"set":"IPF_Yellow","vx":51.3,"vy":-35},{"set":"IPF_Yellow","vx":45.7,"vy":-28.3},{"set":"IPF_Yellow","vx":51.3,"vy":-18.3},{"set":"IPF_Yellow","vx":61.3,"vy":-15},{"set":"IPF_Yellow","vx":73,"vy":-12.3},{"set":"IPF_Yellow","vx":81.3,"vy":-6.7},{"set":"IPF_Yellow","vx":83,"vy":0},{"set":"IPF_Yellow","vx":81.3,"vy":6.7},{"set":"IPF_Yellow","vx":73,"vy":12.3},{"set":"IPF_Yellow","vx":61.3,"vy":15},{"set":"IPF_Yellow","vx":51.3,"vy":18.3},{"set":"IPF_Yellow","vx":45.7,"vy":28.3},{"set":"IPF_Yellow","vx":51.3,"vy":35},{"set":"IPF_Yellow","vx":59.7,"vy":43.3},{"set":"IPF_Yellow","vx":59.7,"vy":53.3},{"set":"IPF_Yellow","vx":51.3,"vy":61.7},{"set":"IPF_Yellow","vx":41.3,"vy":61.7},{"set":"IPF_Yellow","vx":32,"vy":51.7},{"set":"IPF_Yellow","vx":24.7,"vy":48},{"set":"IPF_Yellow","vx":16.3,"vy":53.3},{"set":"IPF_Yellow","vx":12.3,"vy":63.3},{"set":"IPF_Yellow","vx":13.7,"vy":71.7},{"set":"IPF_Yellow","vx":9.7,"vy":81.7},{"set":"IPF_Yellow","vx":0,"vy":85},{"set":"IPF_Yellow","vx":-9.7,"vy":81.7},{"set":"IPF_Yellow","vx":-13.7,"vy":71.7},{"set":"IPF_Yellow","vx":-12.3,"vy":63.3},{"set":"IPF_Yellow","vx":-16.3,"vy":53.3},{"set":"IPF_Yellow","vx":-24.7,"vy":48},{"set":"IPF_Yellow","vx":-32,"vy":51.7},{"set":"IPF_Yellow","vx":-41.3,"vy":61.7},{"set":"IPF_Yellow","vx":-51.3,"vy":61.7},{"set":"IPF_Yellow","vx":-59.7,"vy":53.3},{"set":"IPF_Yellow","vx":-59.7,"vy":43.3},{"set":"IPF_Yellow","vx":-51.3,"vy":35},{"set":"IPF_Yellow","vx":-45.7,"vy":28.3},{"set":"IPF_Yellow","vx":-51.3,"vy":18.3},{"set":"IPF_Yellow","vx":-61.3,"vy":15},{"set":"IPF_Yellow","vx":-73,"vy":12.3},{"set":"IPF_Yellow","vx":-81.3,"vy":6.7},{"set":"IPF_Yellow","vx":-83,"vy":0},{"set":"IPF_Yellow","vx":-81.3,"vy":-6.7},{"set":"IPF_Yellow","vx":-73,"vy":-12.3},{"set":"IPF_Yellow","vx":-61.3,"vy":-15},{"set":"IPF_Yellow","vx":-51.3,"vy":-18.3},{"set":"IPF_Yellow","vx":-45.7,"vy":-28.3},{"set":"IPF_Yellow","vx":-51.3,"vy":-35},{"set":"IPF_Yellow","vx":-59.7,"vy":-43.3},{"set":"IPF_Yellow","vx":-59.7,"vy":-53.3},{"set":"IPF_Yellow","vx":-51.3,"vy":-61.7},{"set":"IPF_Yellow","vx":-41.3,"vy":-61.7},{"set":"IPF_Yellow","vx":-32,"vy":-51.7},{"set":"IPF_Yellow","vx":-24.7,"vy":-46.7},{"set":"IPF_Yellow","vx":-16.3,"vy":-53.3},{"set":"IPF_Yellow","vx":-12.3,"vy":-63.3},{"set":"IPF_Yellow","vx":-13.7,"vy":-71.7},{"set":"IPF_Yellow","vx":-9.7,"vy":-81}
],
"venn_counts":[
{"vx":-13.7,"vy":-91.3,"count":111},{"vx":10.3,"vy":-91.3,"count":124},{"vx":104.7,"vy":-91.3,"count":5208},{"vx":-4.3,"vy":-73,"count":0},{"vx":7.3,"vy":-73,"count":0},{"vx":-46.7,"vy":-54.7,"count":217},{"vx":-30.3,"vy":-53.3,"count":1030},{"vx":-17.7,"vy":-56,"count":13},{"vx":-30,"vy":-44.7,"count":7},{"vx":-51.7,"vy":-46,"count":0},{"vx":-8.3,"vy":-44,"count":0},{"vx":11.3,"vy":-44,"count":0},{"vx":19,"vy":-56.3,"count":0},{"vx":29.3,"vy":-53.3,"count":0},{"vx":43.7,"vy":-54.7,"count":265},{"vx":33.7,"vy":-44.7,"count":0},{"vx":56.3,"vy":-46,"count":0},{"vx":-114.7,"vy":-33,"count":81},{"vx":107.7,"vy":-33,"count":25},{"vx":-36.3,"vy":-34,"count":0},{"vx":-49.3,"vy":-29,"count":0},{"vx":40.3,"vy":-34,"count":0},{"vx":54,"vy":-29,"count":0},{"vx":-53,"vy":-17.7,"count":0},{"vx":58.3,"vy":-17.7,"count":0},{"vx":-87,"vy":-12.7,"count":0},{"vx":-19.7,"vy":-12.7,"count":0},{"vx":22,"vy":-12.7,"count":0},{"vx":91,"vy":-12.7,"count":0},{"vx":-70.7,"vy":-6,"count":0},{"vx":74.3,"vy":-6,"count":0},{"vx":-70.7,"vy":5.3,"count":0},{"vx":74.3,"vy":6,"count":0},{"vx":-87,"vy":12,"count":0},{"vx":-19.7,"vy":12,"count":0},{"vx":22,"vy":12,"count":0},{"vx":91,"vy":12,"count":0},{"vx":-53.7,"vy":17,"count":0},{"vx":58.3,"vy":17,"count":0},{"vx":-49.3,"vy":28.7,"count":0},{"vx":55,"vy":28.7,"count":0},{"vx":-36.3,"vy":34,"count":0},{"vx":40.3,"vy":32.7,"count":0},{"vx":-113,"vy":32.3,"count":0},{"vx":109.3,"vy":32.3,"count":0},{"vx":-29.7,"vy":44,"count":0},{"vx":-9.3,"vy":43.7,"count":0},{"vx":11.7,"vy":43.7,"count":0},{"vx":33,"vy":44,"count":0},{"vx":-53,"vy":47,"count":0},{"vx":57,"vy":47,"count":0},{"vx":-44.3,"vy":55.3,"count":0},{"vx":-27.7,"vy":53.7,"count":14},{"vx":-15,"vy":57.3,"count":0},{"vx":19,"vy":57.3,"count":0},{"vx":29.3,"vy":54,"count":0},{"vx":48.3,"vy":56,"count":0},{"vx":-5,"vy":73.7,"count":0},{"vx":7.3,"vy":73.7,"count":0},{"vx":-11,"vy":91,"count":0},{"vx":13,"vy":91,"count":0},{"vx":-115.7,"vy":98.3,"count":255},{"vx":107.7,"vy":98.3,"count":73}],
"venn_labels":[{"set":"RA_Blue","vx":30.7,"vy":-142.7},{"set":"IPF_Black","vx":41.3,"vy":-109.7},{"set":"IPF_Pink","vx":-123.7,"vy":-77},{"set":"RA_Yellow","vx":53,"vy":-77},{"set":"IPF_Yellow","vx":53.7,"vy":77.3},{"set":"IPF_Purple","vx":-144.3,"vy":148.7}],
"sizes":[{"list":"RA_Yellow","size":1064,"row":1},{"list":"RA_Blue","size":5695,"row":2},{"list":"IPF_Purple","size":342,"row":1},{"list":"IPF_Pink","size":106,"row":2},{"list":"IPF_Black","size":248,"row":1},{"list":"IPF_Yellow","size":489,"row":2}]
},
"resolve":{"scale":{"fill":"independent","color":"independent","stroke":"independent"}},
"spacing":38,
"vconcat":[
{"spacing":1,"resolve":{"scale":{"fill":"independent","color":"independent","stroke":"independent"}},
"vconcat":[
{"hconcat":[
{"width":87.5,"height":195,"data":{"values":[{"panel":"A"}]},"mark":{"type":"text","fontSize":18,"align":"left","baseline":"alphabetic"},"encoding":{"text":{"field":"panel"},"x":{"value":17},"y":{"value":-12}}},
{"width":287,"height":195,"title":{"text":"GSE93272","fontSize":14,"fontWeight":"normal","dx":-3,"offset":11,"color":"#222"},
"encoding":{"x":{"field":"pos","type":"quantitative","axis":null,"scale":{"domain":[0,287],"nice":false,"zero":false}},"y":{"field":"h","type":"quantitative","title":"Height","scale":{"domain":[0.5619,1.0127],"nice":false,"zero":false},"axis":{"values":[0.6,0.7,0.8,0.9,1.0],"format":".1f","labelAngle":-90,"labelFontSize":7,"labelColor":"#666","tickColor":"#777","tickSize":8,"tickWidth":0.8,"domain":false,"offset":11,"titleFontSize":7,"titleColor":"#666","titleFontWeight":"normal","titlePadding":6,"labelPadding":1}}},
"layer":[
{"data":{"name":"a_guides"},"mark":{"type":"rule","strokeDash":[1,2],"color":"#b5b5b5","strokeWidth":0.8},"encoding":{"y2":{"datum":0.5619}}},
{"data":{"name":"a_twigs"},"mark":{"type":"rule","color":"#707070","strokeWidth":1},"encoding":{"y2":{"field":"h2"}}},
{"data":{"name":"a_lines"},"transform":[{"window":[{"op":"row_number","as":"seq"}]}],"mark":{"type":"line","color":"#000","interpolate":"linear"},"encoding":{"detail":{"field":"branch"},"order":{"field":"seq","type":"quantitative"},"strokeWidth":{"field":"kind","type":"ordinal","scale":{"domain":["trunk","cluster","link"],"range":[4,2.4,0.8]},"legend":null}}},
{"data":{"values":[{"axisLine":"height"}]},"mark":{"type":"rule","color":"#555","strokeWidth":1},"encoding":{"x":{"datum":-11},"y":{"datum":0.5619},"y2":{"datum":1.0}}}
]},
{"width":89.5,"height":195,"data":{"values":[{"panel":"B"}]},"mark":{"type":"text","fontSize":18,"align":"left","baseline":"alphabetic"},"encoding":{"text":{"field":"panel"},"x":{"value":21.5},"y":{"value":-12}}},
{"width":293,"height":195,"title":{"text":"GSE93606","fontSize":14,"fontWeight":"normal","dx":-22,"offset":11,"color":"#222"},
"encoding":{"x":{"field":"pos","type":"quantitative","axis":null,"scale":{"domain":[0,293],"nice":false,"zero":false}},"y":{"field":"h","type":"quantitative","title":"Height","scale":{"domain":[0.67,0.9983],"nice":false,"zero":false},"axis":{"values":[0.7,0.75,0.8,0.85,0.9,0.95],"format":".2f","labelAngle":-90,"labelFontSize":7,"labelColor":"#666","tickColor":"#777","tickSize":8,"tickWidth":0.8,"domain":false,"offset":11,"titleFontSize":7,"titleColor":"#666","titleFontWeight":"normal","titlePadding":6,"labelPadding":1}}},
"layer":[
{"data":{"name":"b_guides"},"mark":{"type":"rule","strokeDash":[1,2],"color":"#b5b5b5","strokeWidth":0.8},"encoding":{"y2":{"datum":0.67}}},
{"data":{"name":"b_twigs"},"mark":{"type":"rule","color":"#707070","strokeWidth":1},"encoding":{"y2":{"field":"h2"}}},
{"data":{"name":"b_lines"},"transform":[{"window":[{"op":"row_number","as":"seq"}]}],"mark":{"type":"line","color":"#000","interpolate":"linear"},"encoding":{"detail":{"field":"branch"},"order":{"field":"seq","type":"quantitative"},"strokeWidth":{"field":"kind","type":"ordinal","scale":{"domain":["trunk","cluster","link"],"range":[4,2.4,0.8]},"legend":null}}},
{"data":{"values":[{"axisLine":"height"}]},"mark":{"type":"rule","color":"#555","strokeWidth":1},"encoding":{"x":{"datum":-11},"y":{"datum":0.67},"y2":{"datum":0.9983}}}
]}
],"spacing":0,"bounds":"flush","resolve":{"scale":{"fill":"independent","color":"independent","stroke":"independent"}}},
{"hconcat":[
{"width":87.5,"height":90,"data":{"values":[{"panel":""}]},"mark":{"type":"text"},"encoding":{"text":{"field":"panel"}}},
{"width":287,"height":90,"data":{"name":"a_strip"},"mark":{"type":"rect"},"encoding":{
"x":{"field":"pos","type":"quantitative","axis":null,"scale":{"domain":[0,287],"nice":false,"zero":false}},"x2":{"field":"end"},
"y":{"field":"strip","type":"nominal","title":null,"scale":{"domain":["Dynamic Module","Merged Module"],"paddingInner":0.05,"paddingOuter":0.01},"axis":{"labelFontSize":11.5,"labelColor":"#000","ticks":false,"domain":false,"labelPadding":2,"labelLimit":120}},
"fill":{"field":"module","type":"nominal","legend":null,"scale":{"domain":["tan","brown","plum","steel","cyan","blue","pink","purple","black","orange","gold","red","green","magenta","yellow","turquoise"],"range":["#b39a5e","#8a3a48","#6a3f78","#5c88ba","#6cc8cf","#3358a8","#fdb9d3","#7d3fb5","#050505","#c0782a","#e6c83a","#e3301e","#7cc400","#b050c0","#f4e53c","#7fdccf"]}}}},
{"width":89.5,"height":90,"data":{"values":[{"panel":""}]},"mark":{"type":"text"},"encoding":{"text":{"field":"panel"}}},
{"width":293,"height":90,"data":{"name":"b_strip"},"mark":{"type":"rect"},"encoding":{
"x":{"field":"pos","type":"quantitative","axis":null,"scale":{"domain":[0,293],"nice":false,"zero":false}},"x2":{"field":"end"},
"y":{"field":"strip","type":"nominal","title":null,"scale":{"domain":["Dynamic Module","Merged Module"],"paddingInner":0.05,"paddingOuter":0.01},"axis":{"labelFontSize":11.5,"labelColor":"#000","ticks":false,"domain":false,"labelPadding":3,"labelLimit":120}},
"fill":{"field":"module","type":"nominal","legend":null,"scale":{"domain":["slate","blue","cyan","purple","brown","steel","turquoise","tan","yellow","black","magenta","green","red","gray","plum","paleyellow","pink","navy","orchid"],"range":["#5a4f8e","#0a12f0","#32b8d8","#6a2fb0","#a02c30","#3f7fd0","#40d8c8","#b39a5e","#ffff00","#000000","#ff00ff","#00ff00","#ff0000","#7f8f88","#4f4a8c","#f3e14a","#fdb9d3","#3350a3","#b050c0"]}}}}
],"spacing":0,"bounds":"flush","resolve":{"scale":{"fill":"independent","color":"independent","stroke":"independent"}}}
]},
{"spacing":48,"resolve":{"scale":{"fill":"independent","color":"independent","stroke":"independent"}},
"vconcat":[
{"hconcat":[
{"width":52,"height":193.5,"data":{"values":[{"panel":"C"}]},"mark":{"type":"text","fontSize":18,"align":"left","baseline":"alphabetic"},"encoding":{"text":{"field":"panel"},"x":{"value":17},"y":{"value":-18}}},
{"width":17,"height":193.5,"title":{"text":"Modules","fontSize":10.5,"fontWeight":"normal","dx":0,"offset":6,"color":"#000"},"data":{"name":"heat_c"},"transform":[{"filter":"datum.group === 'RA'"}],"mark":{"type":"rect"},"encoding":{
"x":{"value":0},"x2":{"value":15},
"y":{"field":"module","type":"nominal","title":null,"sort":null,"scale":{"domain":["MEpink","MEblue","MEred","MEyellow","MEblack","MEpurple","MEbrown","MEmagenta"],"paddingInner":0,"paddingOuter":0},"axis":{"labelFontSize":9.3,"labelColor":"#555","ticks":false,"domain":false,"labelPadding":2}},
"fill":{"field":"module","type":"nominal","legend":null,"scale":{"domain":["MEpink","MEblue","MEred","MEyellow","MEblack","MEpurple","MEbrown","MEmagenta"],"range":["#fdbdd5","#2f50a5","#e2311f","#f3e53f","#0a0a08","#7d3fb5","#96302a","#b555c4"]}}}},
{"width":301,"height":193.5,"view":{"stroke":"#666","strokeWidth":1.5},"title":{"text":"GSE93272","fontSize":14.5,"fontWeight":"normal","offset":10,"color":"#222"},"data":{"name":"heat_c"},
"encoding":{"x":{"field":"group","type":"nominal","title":null,"sort":null,"scale":{"domain":["RA","HC"],"paddingInner":0,"paddingOuter":0},"axis":{"labelAngle":0,"labelFontSize":14.5,"labelColor":"#000","ticks":false,"domain":false,"labelPadding":1}},"y":{"field":"module","type":"nominal","axis":null,"sort":null,"scale":{"domain":["MEpink","MEblue","MEred","MEyellow","MEblack","MEpurple","MEbrown","MEmagenta"],"paddingInner":0,"paddingOuter":0}}},
"layer":[
{"mark":{"type":"rect"},"encoding":{"color":{"field":"r","type":"quantitative","legend":null,"scale":{"domain":[-1,-0.5,0,0.5,0.8,1],"range":["#3f78b5","#96c0e5","#ffffff","#fe9685","#f65f3b","#e8401c"],"interpolate":"rgb"}}}},
{"mark":{"type":"text","fontSize":3.8,"color":"#333","dy":-3},"encoding":{"text":{"field":"r"}}},
{"mark":{"type":"text","fontSize":3.8,"color":"#333","dy":3},"encoding":{"text":{"field":"p"}}}
]},
{"width":62.7,"height":193.5,"data":{"values":[{"panel":"D"}]},"mark":{"type":"text","fontSize":18,"align":"left","baseline":"alphabetic"},"encoding":{"text":{"field":"panel"},"x":{"value":26},"y":{"value":-18}}},
{"width":16.6,"height":193.5,"title":{"text":"Modules","fontSize":10.5,"fontWeight":"normal","dx":3,"offset":6,"color":"#000"},"data":{"name":"heat_d"},"transform":[{"filter":"datum.group === 'IPF'"}],"mark":{"type":"rect"},"encoding":{
"x":{"value":0},"x2":{"value":15.3},
"y":{"field":"module","type":"nominal","title":null,"sort":null,"scale":{"domain":["MEblue","MEbrown","MEmagenta","MEpurple","MEpink","MEblack","MEyellow"],"paddingInner":0,"paddingOuter":0},"axis":{"labelFontSize":9.3,"labelColor":"#555","ticks":false,"domain":false,"labelPadding":2}},
"fill":{"field":"module","type":"nominal","legend":null,"scale":{"domain":["MEblue","MEbrown","MEmagenta","MEpurple","MEpink","MEblack","MEyellow"],"range":["#2f50a5","#96302a","#b555c4","#7d3fb5","#fdbdd5","#0a0a08","#f3e53f"]}}}},
{"width":297.4,"height":193.5,"view":{"stroke":"#666","strokeWidth":1.5},"title":{"text":"GSE93606","fontSize":14.5,"fontWeight":"normal","dx":-4.5,"offset":10,"color":"#222"},"data":{"name":"heat_d"},
"encoding":{"x":{"field":"group","type":"nominal","title":null,"sort":null,"scale":{"domain":["IPF","HC"],"paddingInner":0,"paddingOuter":0},"axis":{"labelAngle":0,"labelFontSize":14.5,"labelColor":"#000","ticks":false,"domain":false,"labelPadding":1}},"y":{"field":"module","type":"nominal","axis":null,"sort":null,"scale":{"domain":["MEblue","MEbrown","MEmagenta","MEpurple","MEpink","MEblack","MEyellow"],"paddingInner":0,"paddingOuter":0}}},
"layer":[
{"mark":{"type":"rect"},"encoding":{"color":{"field":"r","type":"quantitative","scale":{"domain":[-1,-0.5,0,0.5,0.8,1],"range":["#3f78b5","#96c0e5","#ffffff","#fe9685","#f65f3b","#e8401c"],"interpolate":"rgb"},"legend":{"title":null,"orient":"none","legendX":300,"legendY":12,"gradientLength":169,"gradientThickness":6.5,"values":[-1,-0.5,0,0.5,1],"labelExpr":"datum.value","labelFontSize":9,"labelColor":"#222","labelOffset":4,"gradientStrokeColor":"#888","gradientStrokeWidth":0.5,"padding":0}}}},
{"mark":{"type":"text","fontSize":3.8,"color":"#333","dy":-3},"encoding":{"text":{"field":"r"}}},
{"mark":{"type":"text","fontSize":3.8,"color":"#333","dy":3},"encoding":{"text":{"field":"p"}}}
]}
],"spacing":0,"bounds":"flush","resolve":{"scale":{"fill":"independent","color":"independent","stroke":"independent"}}},
{"hconcat":[
{"width":40,"height":303,"data":{"values":[{"panel":"E"}]},"mark":{"type":"text","fontSize":18,"align":"left","baseline":"alphabetic"},"encoding":{"text":{"field":"panel"},"x":{"value":18},"y":{"value":-7}}},
{"width":402,"height":303,
"encoding":{"x":{"field":"vx","type":"quantitative","axis":null,"scale":{"domain":[-180.5,221.5],"nice":false,"zero":false}},"y":{"field":"vy","type":"quantitative","axis":null,"scale":{"domain":[153.3,-149.7],"nice":false,"zero":false}}},
"layer":[
{"data":{"name":"venn_rects"},"mark":{"type":"rect","filled":false,"cornerRadius":6,"strokeWidth":1.6},"encoding":{"x2":{"field":"vx2"},"y2":{"field":"vy2"},"stroke":{"field":"set","type":"nominal","legend":null,"scale":{"domain":["RA_Yellow","RA_Blue","IPF_Purple","IPF_Pink","IPF_Black","IPF_Yellow"],"range":["#f2e57e","#a7cbe6","#a86fd8","#f3c6e8","#777777","#b7a770"]}}}},
{"data":{"name":"venn_shapes"},"transform":[{"window":[{"op":"row_number","as":"seq"}]}],"mark":{"type":"line","interpolate":"cardinal-closed","strokeWidth":1.6},"encoding":{"order":{"field":"seq","type":"quantitative"},"stroke":{"field":"set","type":"nominal","legend":null}}},
{"data":{"name":"venn_counts"},"transform":[{"filter":"datum.count === 0"}],"mark":{"type":"text","fontSize":8.5,"color":"#444"},"encoding":{"text":{"field":"count"}}},
{"data":{"name":"venn_counts"},"transform":[{"filter":"datum.count !== 0"}],"mark":{"type":"text","fontSize":8.5,"fontWeight":"bold","color":"#222"},"encoding":{"text":{"field":"count"}}},
{"data":{"name":"venn_labels"},"mark":{"type":"text","fontSize":10},"encoding":{"text":{"field":"set"},"fill":{"field":"set","type":"nominal","legend":null,"scale":{"domain":["RA_Yellow","RA_Blue","IPF_Purple","IPF_Pink","IPF_Black","IPF_Yellow"],"range":["#f3ea9c","#bfdcf0","#d1a4ea","#f6cdea","#aaaaaa","#d3c79f"]}}}}
]},
{"width":296,"height":303,
"resolve":{"scale":{"x":"independent"},"axis":{"x":"independent"}},
"layer":[
{"data":{"name":"sizes"},
"encoding":{"x":{"field":"list","type":"nominal","axis":null,"sort":null,"scale":{"domain":["RA_Yellow","RA_Blue","IPF_Purple","IPF_Pink","IPF_Black","IPF_Yellow"],"range":[14,270],"paddingInner":0.311,"paddingOuter":0}},"y":{"field":"size","type":"quantitative","title":null,"scale":{"domain":[-4204,29763],"nice":false,"zero":false},"axis":{"values":[0,2847.5,5695],"labelExpr":"datum.value","domain":false,"labelFontSize":7.8,"labelColor":"#555","tickColor":"#777","tickSize":4,"labelPadding":2}}},
"layer":[
{"mark":{"type":"rule","color":"#777","strokeWidth":1},"encoding":{"y":{"datum":0},"y2":{"datum":-320}}},
{"mark":{"type":"bar","fillOpacity":0.75,"strokeWidth":1},"encoding":{"y2":{"datum":0},"fill":{"field":"list","type":"nominal","legend":null,"scale":{"domain":["RA_Yellow","RA_Blue","IPF_Purple","IPF_Pink","IPF_Black","IPF_Yellow"],"range":["#f2e57e","#9fc3e2","#a86fd8","#f3c6e8","#444444","#ab9a60"]}},"stroke":{"field":"list","type":"nominal","legend":null,"scale":{"domain":["RA_Yellow","RA_Blue","IPF_Purple","IPF_Pink","IPF_Black","IPF_Yellow"],"range":["#f2e57e","#a7cbe6","#a05fd0","#f3c6e8","#555555","#b7a770"]}}}},
{"transform":[{"filter":"datum.size < 5000"}],"mark":{"type":"text","fontSize":8,"dy":-9.5},"encoding":{"text":{"field":"size"},"color":{"field":"list","type":"nominal","legend":null,"scale":{"domain":["RA_Yellow","IPF_Purple","IPF_Pink","IPF_Black","IPF_Yellow"],"range":["#f0e58a","#d1a4ea","#f6cdea","#aaaaaa","#c9bb8a"]}}}},
{"transform":[{"filter":"datum.size >= 5000"}],"mark":{"type":"text","fontSize":8,"dy":9,"color":"#ffffff"},"encoding":{"text":{"field":"size"}}},
{"transform":[{"filter":"datum.row === 1"}],"mark":{"type":"text","fontSize":7.7,"color":"#555"},"encoding":{"text":{"field":"list"},"y":{"datum":-953}}},
{"transform":[{"filter":"datum.row === 2"}],"mark":{"type":"text","fontSize":7.7,"color":"#555"},"encoding":{"text":{"field":"list"},"y":{"datum":-1850}}}
]},
{"data":{"values":[{"axisNote":"size of each list"}]},
"encoding":{"x":{"datum":0,"type":"quantitative","axis":null,"scale":{"domain":[0,296],"nice":false,"zero":false}},"y":{"datum":0,"axis":null}},
"layer":[
{"mark":{"type":"rule","color":"#777","strokeWidth":1.5},"encoding":{"y":{"datum":0},"y2":{"datum":7000}}},
{"mark":{"type":"rule","color":"#777","strokeWidth":1.5},"encoding":{"x":{"datum":0},"x2":{"datum":290},"y":{"datum":0}}},
{"mark":{"type":"point","shape":"triangle-up","filled":true,"color":"#555","size":35,"opacity":1},"encoding":{"y":{"datum":7400}}},
{"mark":{"type":"point","shape":"triangle-right","filled":true,"color":"#555","size":35,"opacity":1},"encoding":{"x":{"datum":293},"y":{"datum":0}}},
{"mark":{"type":"text","fontSize":9.6,"fontStyle":"italic","color":"#666"},"encoding":{"text":{"value":"Size of each list"},"x":{"datum":145.7},"y":{"datum":7903}}},
{"mark":{"type":"text","fontSize":9.1,"color":"#111","fontWeight":500},"encoding":{"text":{"field":"axisNote"},"x":{"datum":134.7},"y":{"datum":5550}}}
]}
]}
],"spacing":0,"bounds":"flush","resolve":{"scale":{"fill":"independent","color":"independent","stroke":"independent"}}}
]}
]
}
